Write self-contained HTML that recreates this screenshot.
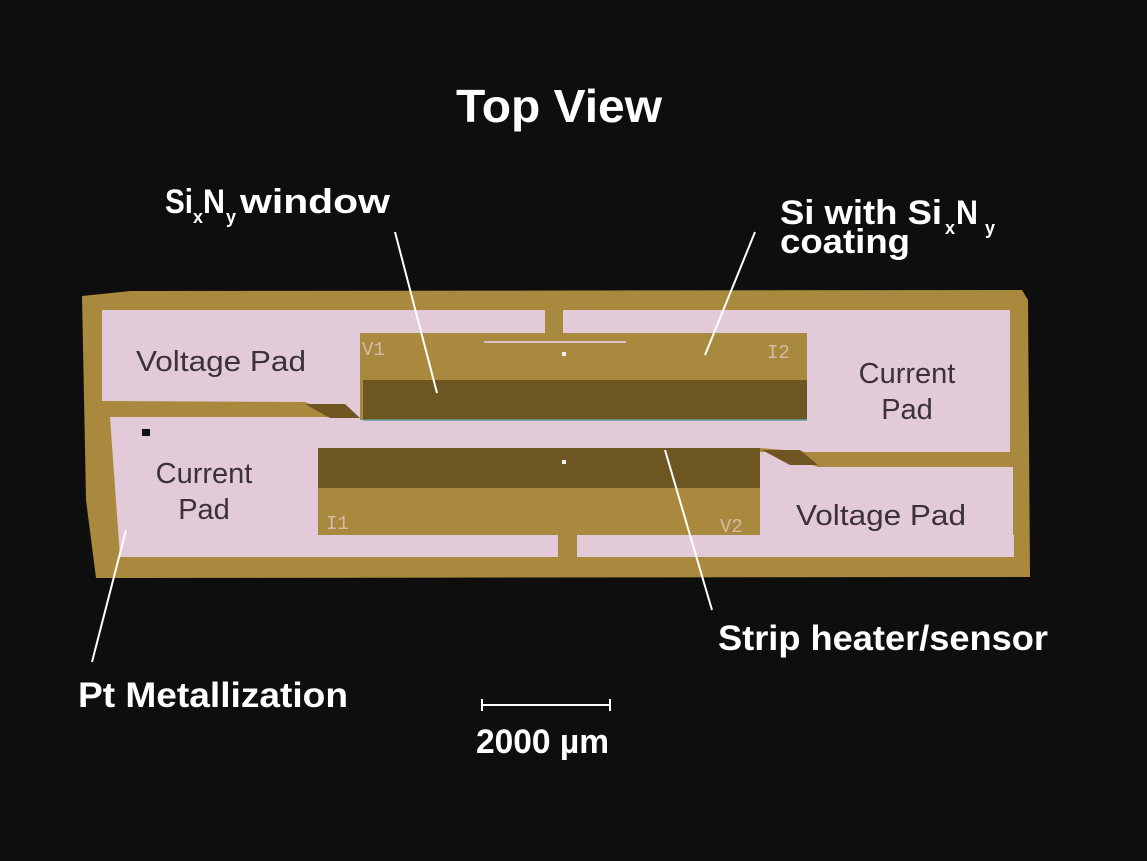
<!DOCTYPE html>
<html><head><meta charset="utf-8"><style>
html,body{margin:0;padding:0;background:#0e0e0e;}
svg{display:block;}
.w{font-family:"Liberation Sans",sans-serif;font-weight:bold;fill:#fff;}
.p{font-family:"Liberation Sans",sans-serif;fill:#3a3238;}
.g{font-family:"Liberation Mono",monospace;fill:#d8b9a8;}
</style></head><body>
<svg width="1147" height="861" viewBox="0 0 1147 861" xmlns="http://www.w3.org/2000/svg">
<rect width="1147" height="861" fill="#0e0e0e"/>
<polygon points="82,296 130,291 1022,290 1028,300 1030,577 96,578 86,500" fill="#a8893e"/>
<polygon points="102,310 545,310 545,333 360,333 360,420 350,420 305,402 102,401" fill="#e3cad9"/>
<rect x="563" y="310" width="447" height="23" fill="#e3cad9"/>
<polygon points="807,310 1010,310 1010,452 820,452 807,452" fill="#e3cad9"/>
<polygon points="110,417 360,417 360,420 807,420 807,452 760,448 318,448 318,535 558,535 558,557 120,557" fill="#e3cad9"/>
<rect x="577" y="535" width="437" height="22" fill="#e3cad9"/>
<polygon points="760,452 775,452 818,467 1013,467 1013,557 760,557" fill="#e3cad9"/>
<polygon points="762,450 800,450 818,465 790,465" fill="#6e5522"/>
<polygon points="305,404 345,404 360,418 330,418" fill="#6e5522"/>
<rect x="545" y="310" width="18" height="23" fill="#a8893e"/>
<rect x="558" y="535" width="19" height="22" fill="#a8893e"/>
<rect x="360" y="333" width="447" height="47" fill="#a8893e"/>
<rect x="363" y="380" width="444" height="40" fill="#6e5622"/>
<line x1="363" y1="420" x2="807" y2="420" stroke="#5fa0a0" stroke-width="1.5"/>
<line x1="484" y1="342" x2="626" y2="342" stroke="#d8c0c8" stroke-width="2"/>
<rect x="562" y="352" width="4" height="4" fill="#eee"/>
<rect x="318" y="448" width="442" height="40" fill="#6e5622"/>
<rect x="318" y="488" width="442" height="47" fill="#a8893e"/>
<rect x="562" y="460" width="4" height="4" fill="#eee"/>
<rect x="142" y="429" width="8" height="7" fill="#111"/>
<text class="g" x="362" y="355" font-size="19">V1</text>
<text class="g" x="767" y="358" font-size="19">I2</text>
<text class="g" x="326" y="529" font-size="19">I1</text>
<text class="g" x="720" y="532" font-size="19">V2</text>
<text class="p" x="136" y="371" font-size="29" textLength="170" lengthAdjust="spacingAndGlyphs">Voltage Pad</text>
<text class="p" x="204" y="483" font-size="29" text-anchor="middle">Current</text>
<text class="p" x="204" y="519" font-size="29" text-anchor="middle">Pad</text>
<text class="p" x="907" y="383" font-size="29" text-anchor="middle">Current</text>
<text class="p" x="907" y="419" font-size="29" text-anchor="middle">Pad</text>
<text class="p" x="796" y="525" font-size="29" textLength="170" lengthAdjust="spacingAndGlyphs">Voltage Pad</text>
<g stroke="#fff" stroke-width="2">
<line x1="395" y1="232" x2="437" y2="393"/>
<line x1="755" y1="232" x2="705" y2="355"/>
<line x1="665" y1="450" x2="712" y2="610"/>
<line x1="126" y1="530" x2="92" y2="662"/>
<line x1="482" y1="705" x2="610" y2="705"/>
<line x1="482" y1="699" x2="482" y2="711"/>
<line x1="610" y1="699" x2="610" y2="711"/>
</g>
<text class="w" x="456" y="122" font-size="46" textLength="206" lengthAdjust="spacingAndGlyphs">Top View</text>
<text class="w" x="165" y="213" font-size="34" textLength="28" lengthAdjust="spacingAndGlyphs">Si</text>
<text class="w" x="193" y="223" font-size="18">x</text>
<text class="w" x="203" y="213" font-size="34" textLength="22" lengthAdjust="spacingAndGlyphs">N</text>
<text class="w" x="226" y="223" font-size="18">y</text>
<text class="w" x="240" y="213" font-size="34" textLength="150" lengthAdjust="spacingAndGlyphs">window</text>
<text class="w" x="780" y="224" font-size="34" textLength="162" lengthAdjust="spacingAndGlyphs">Si with Si</text>
<text class="w" x="945" y="234" font-size="18">x</text>
<text class="w" x="956" y="224" font-size="34" textLength="22" lengthAdjust="spacingAndGlyphs">N</text>
<text class="w" x="985" y="234" font-size="18">y</text>
<text class="w" x="780" y="253" font-size="34" textLength="130" lengthAdjust="spacingAndGlyphs">coating</text>
<text class="w" x="718" y="650" font-size="35" textLength="330" lengthAdjust="spacingAndGlyphs">Strip heater/sensor</text>
<text class="w" x="78" y="707" font-size="35" textLength="270" lengthAdjust="spacingAndGlyphs">Pt Metallization</text>
<text class="w" x="476" y="753" font-size="34" textLength="133" lengthAdjust="spacingAndGlyphs">2000 µm</text>
</svg>
</body></html>
